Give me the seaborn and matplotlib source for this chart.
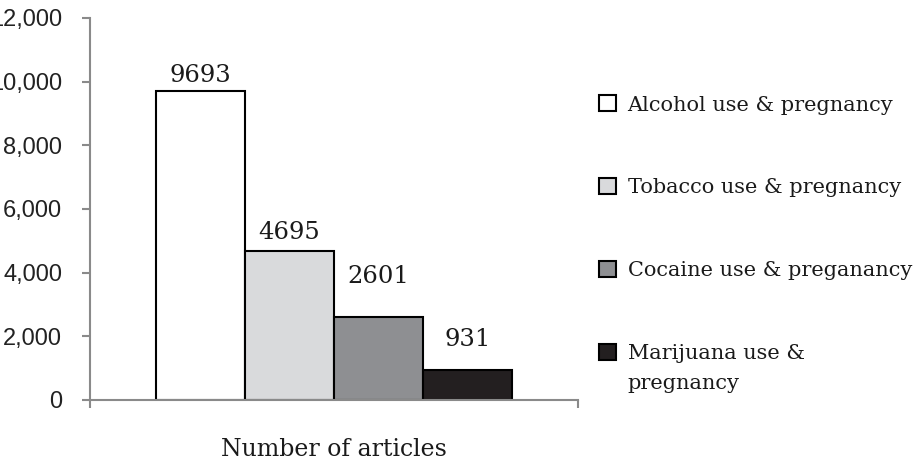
import pandas as pd
import seaborn as sns
from matplotlib import pyplot as plt
from matplotlib.ticker import FuncFormatter

# data
substances = ['Alcohol use & pregnancy', 'Tobacco use & pregnancy',
              'Cocaine use & preganancy', 'Marijuana use &\npregnancy']
articles = [9693, 4695, 2601, 931]
group = ['Number of articles'] * len(substances)
y_ticks = [0, 2000, 4000, 6000, 8000, 10000, 12000]

bar_colors = ['#ffffff', '#d9dadc', '#8e8f92', '#231f20']
label_pads = [3, 5, 21, 14]  # value labels sit at uneven heights in the original

df = pd.DataFrame({'group': group, 'substance': substances, 'count': articles})

sns.set_style('white')
plt.rcParams['font.family'] = ['DejaVu Serif', 'DejaVu Sans']

fig = plt.figure(figsize=(9.16, 4.65), dpi=100)
ax = fig.add_axes([0.0983, 0.1398, 0.5327, 0.8215])

sns.barplot(data=df, x='group', y='count', hue='substance', hue_order=substances,
            palette=bar_colors, saturation=1, edgecolor='black', linewidth=1.5,
            width=0.73, legend=False, ax=ax)

for i, cont in enumerate(ax.containers):
    ax.bar_label(cont, padding=label_pads[i], fontsize=17.5, color='#1a1a1a')

ax.set_ylim(0, 12000)
ax.set_yticks(y_ticks)
ax.yaxis.set_major_formatter(FuncFormatter(lambda v, p: f'{int(v):,}'))
ax.set_xlim(-0.5, 0.5)
ax.set_xticks([-0.5, 0.5])
ax.set_xticklabels([])
ax.set_ylabel('')
ax.set_xlabel('Number of articles', fontsize=17, labelpad=18, color='#1a1a1a')

sns.despine(ax=ax)
for side in ['left', 'bottom']:
    ax.spines[side].set_color('#8a8a8a')
    ax.spines[side].set_linewidth(1.5)
ax.tick_params(left=True, bottom=True, direction='out', length=6, width=1.5,
               color='#8a8a8a')
ax.tick_params(axis='y', labelsize=17, pad=14, labelfontfamily='Liberation Sans',
               labelcolor='#222222')

handles = [c.patches[0] for c in ax.containers]
leg = fig.legend(handles, substances, loc='center left', bbox_to_anchor=(0.643, 0.475),
                 frameon=False, fontsize=15, borderpad=0, handlelength=0.8,
                 handleheight=0.8, handletextpad=0.55, labelspacing=3.05)
for t in leg.get_texts():
    t.set_linespacing(1.75)
    t.set_color('#1a1a1a')

# excel puts the swatch next to the first line of a wrapped label
try:
    rows = leg._legend_handle_box.get_children()[0].get_children()
    rows[-1].align = 'top'
except (AttributeError, IndexError):
    pass

plt.savefig('out.png', dpi=100)
